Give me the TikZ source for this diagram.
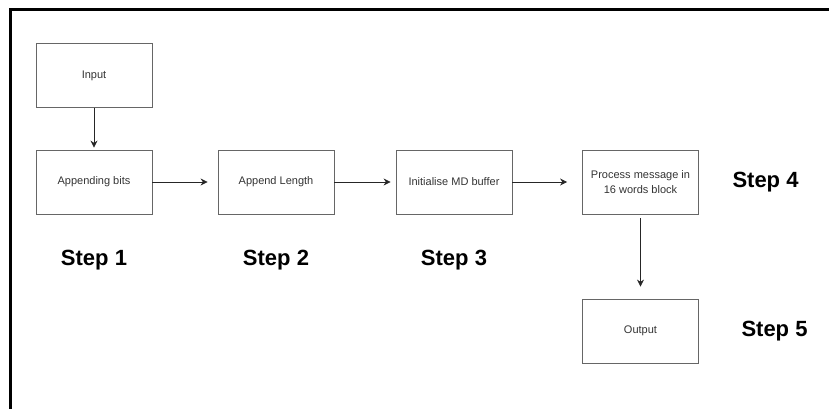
\documentclass[tikz,border=0pt]{standalone}
\usepackage{fontspec}
\setmainfont{Liberation Sans}
\usetikzlibrary{positioning,arrows.meta}

\begin{document}
\begin{tikzpicture}[x=1pt,y=-1pt,node distance=182pt]
\tikzstyle{box} = [rectangle,draw=black!60,fill=none,line width=0.8pt,minimum width=116pt,minimum height=64pt,text=black!80,font=\fontsize{11}{15}\selectfont,align=center]
\tikzstyle{steplbl} = [font=\fontsize{22}{26}\selectfont\bfseries,text=black]
\tikzstyle{flow} = [-{Stealth[length=7pt,width=7pt]},draw=black!85,line width=0.8pt]

\useasboundingbox (0,0) rectangle (829,409);
\draw[line width=3pt] (10,409) -- (10,10) -- (829,10);

\node[box](input) at (94,75.5)		{Input};
\node[box](bits)[below of=input][node distance=106.5pt]		{Appending bits};
\node[box](length)[right of=bits]		{Append Length};
\node[box](buffer)[right of=length][node distance=178pt]		{Initialise MD buffer};
\node[box](process)[right of=buffer][node distance=186.5pt]		{Process message in\\16 words block};
\node[box](output)[below of=process][node distance=149pt]		{Output};

\node[steplbl](step1)[below of=bits][node distance=78pt]		{Step 1};
\node[steplbl](step2)[below of=length][node distance=78pt]		{Step 2};
\node[steplbl](step3)[below of=buffer][node distance=78pt]		{Step 3};
\node[steplbl](step4)[right of=process][node distance=125pt]		{Step 4};
\node[steplbl](step5)[right of=output][node distance=134pt]		{Step 5};

\draw [flow,shorten >=2pt] (input) -- (bits);
\draw [flow,shorten >=10pt] (bits) -- (length);
\draw [flow,shorten >=5pt] (length) -- (buffer);
\draw [flow,shorten >=15pt] (buffer) -- (process);
\draw [flow,shorten <=4pt,shorten >=12pt] (process) -- (output);

\end{tikzpicture}
\end{document}
